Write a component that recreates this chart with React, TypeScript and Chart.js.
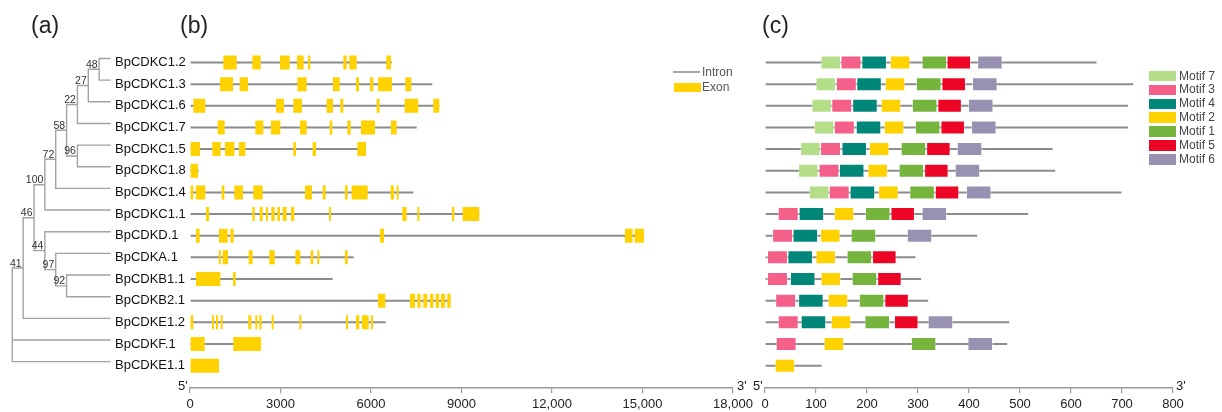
import React, { useEffect, useRef } from 'react';
import { Chart, registerables } from 'chart.js';

Chart.register(...registerables);

const FONT = '"Liberation Sans", Arial, Helvetica, sans-serif';

// ---------- data ----------
const geneNames = [
  'BpCDKC1.2', 'BpCDKC1.3', 'BpCDKC1.6', 'BpCDKC1.7', 'BpCDKC1.5',
  'BpCDKC1.8', 'BpCDKC1.4', 'BpCDKC1.1', 'BpCDKD.1', 'BpCDKA.1',
  'BpCDKB1.1', 'BpCDKB2.1', 'BpCDKE1.2', 'BpCDKF.1', 'BpCDKE1.1',
];

// gene lengths (bp)
const geneLengths = [6690, 8030, 8264, 7513, 5834, 290, 7402, 9589, 15048, 5425, 4729, 8640, 6486, 2354, 961];

// exon [start, end] per gene (bp)
const exonRanges: number[][][] = [
  [[1105, 1547], [2066, 2343], [2983, 3304], [3547, 3768], [3911, 3988], [5082, 5193], [5281, 5524], [6508, 6662]],
  [[994, 1425], [1646, 1922], [3558, 3868], [4740, 4962], [5502, 5601], [5966, 6076], [6231, 6695], [7137, 7336]],
  [[110, 508], [2851, 3116], [3425, 3712], [4530, 4740], [4983, 5082], [6187, 6286], [7115, 7568], [8065, 8264]],
  [[917, 1149], [2166, 2431], [2685, 2994], [3646, 3868], [4630, 4718], [5215, 5326], [5668, 6132], [6662, 6850]],
  [[0, 331], [740, 1017], [1160, 1470], [1624, 1834], [3425, 3513], [4066, 4176], [5546, 5834]],
  [[0, 265]],
  [[0, 110], [199, 508], [1050, 1138], [1470, 1757], [2099, 2409], [3812, 4044], [4398, 4497], [5137, 5226], [5358, 5889], [6651, 6762], [6850, 6894]],
  [[530, 630], [2066, 2144], [2309, 2409], [2519, 2563], [2696, 2807], [2894, 2983], [3072, 3204], [3348, 3458], [4607, 4674], [7038, 7181], [7535, 7590], [8684, 8761], [9038, 9589]],
  [[199, 320], [961, 1249], [1337, 1448], [6298, 6430], [14418, 14672], [14738, 15048]],
  [[955, 1010], [1083, 1260], [1945, 2077], [2630, 2807], [3492, 3657], [4000, 4088], [4221, 4287], [5137, 5226]],
  [[199, 1006], [1425, 1514]],
  [[6231, 6475], [7292, 7458], [7535, 7645], [7734, 7866], [7955, 8065], [8143, 8253], [8320, 8452], [8530, 8640]],
  [[0, 110], [729, 773], [862, 917], [1017, 1083], [1934, 2033], [2166, 2221], [2298, 2375], [2707, 2774], [3624, 3668], [5170, 5230], [5502, 5612], [5701, 5922], [6000, 6065]],
  [[0, 486], [1436, 2354]],
  [[0, 961]],
];

const geneTicks = [0, 3000, 6000, 9000, 12000, 15000, 18000];
const geneTickLabels = ['0', '3000', '6000', '9000', '12,000', '15,000', '18,000'];

// protein lengths (aa)
const proteinLengths = [650, 722, 712, 712, 564, 569, 699, 516, 416, 295, 306, 320, 479, 475, 111];

const motifNames = ['Motif 7', 'Motif 3', 'Motif 4', 'Motif 2', 'Motif 1', 'Motif 5', 'Motif 6'];
const motifColors = ['#B4DE88', '#F4608A', '#00877A', '#FFD200', '#75B53D', '#EC0525', '#9891B2'];
const motifWidths = [40, 41, 50, 40, 50, 48, 50];
const motif7Starts = [109, 99, 91, 96, 69, 65, 86, null, null, null, null, null, null, null, null];
const motif3Starts = [148, 139, 130, 135, 108, 105, 125, 25, 14, 4, 4, 20, 25, 21, null];
const motif4Starts = [189, 179, 171, 178, 150, 145, 166, 66, 54, 44, 49, 65, 70, null, null];
const motif2Starts = [245, 235, 227, 233, 204, 201, 222, 135, 108, 99, 109, 123, 129, 115, 19];
const motif1Starts = [307, 296, 288, 294, 266, 262, 283, 196, 168, 160, 170, 184, 195, 286, null];
const motif5Starts = [356, 346, 338, 344, 316, 312, 333, 246, null, 210, 220, 234, 253, null, null];
const motif6Starts = [416, 406, 398, 404, 376, 372, 394, 307, 278, null, null, null, 319, 397, null];
const motifStarts = [motif7Starts, motif3Starts, motif4Starts, motif2Starts, motif1Starts, motif5Starts, motif6Starts];

const motifTicks = [0, 100, 200, 300, 400, 500, 600, 700, 800];

// tree: tips are rows 0..14; internal node k has id 15 + k
const TIP_LEVEL = 9;
const nodeLevels = [8, 7, 6, 6, 5, 4, 3, 5, 4, 3, 2, 1, 0];
const nodeSupports = [48, 27, 22, 96, 58, 72, 100, 92, 97, 44, 46, 41, null];
const nodeChildren = [
  [0, 1], [15, 2], [16, 3], [4, 5], [17, 18], [19, 6], [20, 7],
  [10, 11], [9, 22], [8, 23], [21, 24], [25, 12], [26, 13, 14],
];

// ---------- styling ----------
const EXON_COLOR = '#FFD200';
const LINE_COLOR = '#8c8c8c';
const AXIS_COLOR = '#9a9a9a';
const ROW_MIN = -1.5;
const ROW_MAX = 15;

function computeTree() {
  const nTips = geneNames.length;
  const yOf: number[] = [];
  const lvlOf: number[] = [];
  for (let i = 0; i < nTips; i++) { yOf[i] = i; lvlOf[i] = TIP_LEVEL; }
  nodeChildren.forEach((ch, k) => {
    const ys = ch.map((c) => yOf[c]);
    yOf[nTips + k] = (Math.min(...ys) + Math.max(...ys)) / 2;
    lvlOf[nTips + k] = nodeLevels[k];
  });
  const pts: { x: number; y: number }[] = [];
  const gap = { x: NaN, y: NaN };
  nodeChildren.forEach((ch, k) => {
    const lvl = nodeLevels[k];
    const ys = ch.map((c) => yOf[c]);
    pts.push({ x: lvl, y: Math.min(...ys) }, { x: lvl, y: Math.max(...ys) }, gap);
    ch.forEach((c) => {
      pts.push({ x: lvl, y: yOf[c] }, { x: lvlOf[c], y: yOf[c] }, gap);
    });
  });
  return { pts, yOf, nTips };
}

function axisX(min: number, max: number, ticks: number[], labels: string[]) {
  return {
    type: 'linear' as const,
    position: 'bottom' as const,
    min,
    max,
    offset: false,
    afterBuildTicks: (s: any) => { s.ticks = ticks.map((v) => ({ value: v })); },
    afterFit: (s: any) => { s.height = 24.7; },
    ticks: {
      autoSkip: false,
      maxRotation: 0,
      padding: 3,
      color: '#222',
      font: { family: FONT, size: 13 },
      callback: (_v: any, i: number) => labels[i],
    },
    grid: { display: true, drawOnChartArea: false, drawTicks: true, tickLength: 6, color: AXIS_COLOR, lineWidth: 1.2 },
    border: { display: true, color: AXIS_COLOR, width: 1.5 },
  };
}

function rowAxis(display: boolean, extra: any = {}) {
  return {
    type: 'linear' as const,
    display,
    min: ROW_MIN,
    max: ROW_MAX,
    reverse: true,
    offset: false,
    afterBuildTicks: (s: any) => { s.ticks = geneNames.map((_n, i) => ({ value: i })); },
    grid: { display: false, offset: false },
    border: { display: false },
    ...extra,
  };
}

export default function App() {
  const treeRef = useRef<HTMLCanvasElement>(null);
  const geneRef = useRef<HTMLCanvasElement>(null);
  const motifRef = useRef<HTMLCanvasElement>(null);

  useEffect(() => {
    const charts: Chart[] = [];
    const { pts, yOf, nTips } = computeTree();

    const supportPlugin = {
      id: 'supportLabels',
      afterDatasetsDraw(chart: any) {
        const { ctx, scales } = chart;
        ctx.save();
        ctx.font = `10.5px ${FONT}`;
        ctx.fillStyle = '#333';
        ctx.textAlign = 'right';
        ctx.textBaseline = 'alphabetic';
        nodeSupports.forEach((s, k) => {
          if (s === null) return;
          const px = scales.x.getPixelForValue(nodeLevels[k]) - 1.5;
          const py = scales.y.getPixelForValue(yOf[nTips + k]) - 1.5;
          ctx.fillText(String(s), px, py);
        });
        ctx.restore();
      },
    };

    if (treeRef.current) {
      charts.push(new Chart(treeRef.current, {
        type: 'scatter',
        data: {
          datasets: [{
            data: pts,
            showLine: true,
            spanGaps: false,
            borderColor: '#a3a3a3',
            borderWidth: 1.4,
            borderCapStyle: 'square',
            pointRadius: 0,
            pointHoverRadius: 0,
            clip: false,
          } as any],
        },
        options: {
          animation: false,
          responsive: false,
          devicePixelRatio: 1,
          layout: { padding: { left: 12.3, right: 5, top: 30, bottom: 24.7 } },
          plugins: { legend: { display: false }, tooltip: { enabled: false } },
          scales: {
            x: { type: 'linear', display: false, min: 0, max: TIP_LEVEL, offset: false },
            y: rowAxis(false) as any,
          },
        },
        plugins: [supportPlugin],
      }));
    }

    if (geneRef.current) {
      const exonData: any[] = [];
      exonRanges.forEach((ex, i) => ex.forEach(([s, e]) => exonData.push({ x: [s, e], y: i })));
      const intronData = geneLengths.map((L, i) => ({ x: [0, L], y: i }));
      charts.push(new Chart(geneRef.current, {
        type: 'bar',
        data: {
          datasets: [
            { label: 'Exon', data: exonData, backgroundColor: EXON_COLOR, borderWidth: 0, maxBarThickness: 14, minBarLength: 2, grouped: false, order: 1 } as any,
            { label: 'Intron', data: intronData, backgroundColor: LINE_COLOR, borderWidth: 0, maxBarThickness: 2, grouped: false, order: 2 } as any,
          ],
        },
        options: {
          animation: false,
          responsive: false,
          devicePixelRatio: 1,
          indexAxis: 'y',
          layout: { padding: { left: 0, right: 27, top: 30, bottom: 0 } },
          plugins: { legend: { display: false }, tooltip: { enabled: false } },
          scales: {
            x: axisX(0, 18000, geneTicks, geneTickLabels) as any,
            y: rowAxis(true, {
              afterFit: (s: any) => { s.width = 75; s.paddingTop = 0; s.paddingBottom = 0; },
              ticks: {
                autoSkip: false,
                crossAlign: 'far',
                color: '#111',
                font: { family: FONT, size: 13 },
                callback: (_v: any, i: number) => geneNames[i],
              },
            }) as any,
          },
        },
      }));
    }

    if (motifRef.current) {
      const datasets: any[] = [];
      motifStarts.forEach((starts, m) => {
        const data: any[] = [];
        starts.forEach((s, i) => { if (s !== null) data.push({ x: [s, s + motifWidths[m]], y: i }); });
        datasets.push({
          label: motifNames[m],
          data,
          backgroundColor: motifColors[m],
          borderColor: 'rgba(255,255,255,0.45)',
          borderWidth: 1,
          borderSkipped: false,
          maxBarThickness: 14,
          grouped: false,
          order: 1,
        });
      });
      datasets.push({
        label: 'backbone',
        data: proteinLengths.map((L, i) => ({ x: [0, L], y: i })),
        backgroundColor: LINE_COLOR,
        borderWidth: 0,
        maxBarThickness: 2,
        grouped: false,
        order: 2,
      });
      charts.push(new Chart(motifRef.current, {
        type: 'bar',
        data: { datasets },
        options: {
          animation: false,
          responsive: false,
          devicePixelRatio: 1,
          indexAxis: 'y',
          layout: { padding: { left: 20, right: 49, top: 30, bottom: 0 } },
          plugins: { legend: { display: false }, tooltip: { enabled: false } },
          scales: {
            x: axisX(0, 800, motifTicks, motifTicks.map(String)) as any,
            y: rowAxis(false) as any,
          },
        },
      }));
    }

    return () => charts.forEach((c) => c.destroy());
  }, []);

  const text = (content: string, left: number, cy: number, size: number, color = '#222') => {
    const lh = Math.round(size * 1.25);
    return (
      <div
        key={content + left + cy}
        style={{
          position: 'absolute', left, top: cy - lh / 2, height: lh, lineHeight: `${lh}px`,
          fontSize: size, color, fontFamily: FONT, whiteSpace: 'nowrap',
        }}
      >
        {content}
      </div>
    );
  };

  return (
    <div style={{ position: 'absolute', left: 0, top: 0, width: 1222, height: 412, overflow: 'hidden', background: '#fff' }}>
      <canvas ref={treeRef} width={115} height={412} style={{ position: 'absolute', left: 0, top: -4 }} />
      <canvas ref={geneRef} width={645} height={412} style={{ position: 'absolute', left: 115, top: 0 }} />
      <canvas ref={motifRef} width={477} height={412} style={{ position: 'absolute', left: 745, top: 0 }} />

      {text('(a)', 31, 25, 23, '#222')}
      {text('(b)', 180, 25, 23, '#222')}
      {text('(c)', 762, 25, 23, '#222')}

      {/* gene structure legend */}
      <div style={{ position: 'absolute', left: 673, top: 70.5, width: 27, height: 2.5, background: '#a8a8a8' }} />
      <div style={{ position: 'absolute', left: 674, top: 82.5, width: 27, height: 9.5, background: EXON_COLOR }} />
      {text('Intron', 702, 72, 12, '#555')}
      {text('Exon', 702, 87, 12, '#555')}

      {/* motif legend */}
      {motifNames.map((n, i) => (
        <div key={n} style={{ position: 'absolute', left: 1149, top: 70.7 + i * 13.9, width: 27, height: 10.5, background: motifColors[i] }} />
      ))}
      {motifNames.map((n, i) => text(n, 1179, 76 + i * 13.9, 12, '#444'))}

      {/* 5' / 3' marks */}
      {text("5'", 178, 386, 13, '#222')}
      {text("3'", 737, 386, 13, '#222')}
      {text("5'", 753, 386, 13, '#222')}
      {text("3'", 1176, 386, 13, '#222')}
    </div>
  );
}
